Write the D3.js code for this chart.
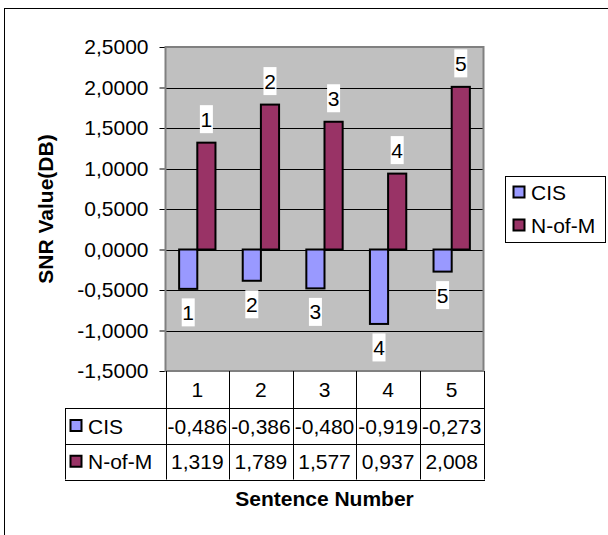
<!DOCTYPE html>
<html>
<head>
<meta charset="utf-8">
<script src="https://cdn.jsdelivr.net/npm/d3@7/dist/d3.min.js"></script>
<style>
  html, body { margin: 0; padding: 0; background: #fff; }
  svg { display: block; }
  text { font-family: "Liberation Sans", Arial, sans-serif; fill: #000; }
</style>
</head>
<body>
<svg id="chart" width="608" height="535"></svg>
<script>
// ---- data ----
const categories = ["1", "2", "3", "4", "5"];
const seriesNames = ["CIS", "N-of-M"];
const cisValues = [-0.486, -0.386, -0.480, -0.919, -0.273];
const nofmValues = [1.319, 1.789, 1.577, 0.937, 2.008];
const yTickValues = [-1.5, -1.0, -0.5, 0.0, 0.5, 1.0, 1.5, 2.0, 2.5];
const seriesColors = ["#9999FF", "#993366"];

const locale = d3.formatLocale({decimal: ",", thousands: ".", grouping: [3], currency: ["", ""], minus: "-"});
const fmtTick = locale.format(".4f");
const fmtVal = locale.format(".3f");

const svg = d3.select("#chart");
const FS = 21;

// outer frame
svg.append("rect").attr("x", 4.5).attr("y", 8.5).attr("width", 620).attr("height", 560)
  .attr("fill", "#fff").attr("stroke", "#000").attr("stroke-width", 1);

const plot = {left: 165.5, right: 483.5, top: 47, bottom: 371};

const y = d3.scaleLinear().domain([-1.5, 2.5]).range([plot.bottom, plot.top]);
const x0 = d3.scaleBand().domain(categories).range([plot.left, plot.right]).paddingInner(0).paddingOuter(0);
const x1 = d3.scaleBand().domain(seriesNames).range([0, x0.bandwidth()]).paddingInner(0).paddingOuter(0.75);

// plot background
svg.append("rect").attr("x", plot.left).attr("y", plot.top)
  .attr("width", plot.right - plot.left).attr("height", plot.bottom - plot.top)
  .attr("fill", "#C0C0C0");

// gridlines
svg.append("g").selectAll("line").data(yTickValues.filter(v => v > -1.5 && v < 2.5)).join("line")
  .attr("x1", plot.left).attr("x2", plot.right)
  .attr("y1", d => Math.round(y(d)) + 0.5).attr("y2", d => Math.round(y(d)) + 0.5)
  .attr("stroke", "#000").attr("stroke-width", 1);

// y axis
const yAxis = d3.axisLeft(y).tickValues(yTickValues).tickFormat(fmtTick).tickSizeInner(6).tickSizeOuter(0).tickPadding(11);
const gy = svg.append("g").attr("transform", `translate(${plot.left},0)`).call(yAxis);
gy.select(".domain").remove();
gy.selectAll(".tick line").attr("stroke", "#000");
gy.selectAll(".tick text").style("font-size", FS + "px").style("font-family", '"Liberation Sans", Arial, sans-serif').attr("fill", "#000");

// bars
const rows = categories.map((c, i) => ({cat: c, vals: [cisValues[i], nofmValues[i]]}));
const groups = svg.append("g").selectAll("g").data(rows).join("g")
  .attr("transform", d => `translate(${x0(d.cat)},0)`);
groups.selectAll("rect").data(d => d.vals.map((v, j) => ({name: seriesNames[j], v, j}))).join("rect")
  .attr("x", d => x1(d.name))
  .attr("width", x1.bandwidth())
  .attr("y", d => Math.min(y(d.v), y(0)))
  .attr("height", d => Math.abs(y(d.v) - y(0)))
  .attr("fill", d => seriesColors[d.j])
  .attr("stroke", "#000").attr("stroke-width", 2);

// data labels (category name)
const labG = groups.selectAll("g.lab").data(d => d.vals.map((v, j) => ({name: seriesNames[j], v, j, cat: d.cat}))).join("g")
  .attr("class", "lab")
  .attr("transform", d => `translate(${x1(d.name) + x1.bandwidth() / 2},${y(d.v) + (d.v < 0 ? 23.5 : -23.5)})`);
labG.append("rect").attr("x", -6.5).attr("y", -14).attr("width", 13).attr("height", 28).attr("fill", "#fff");
labG.append("text").attr("text-anchor", "middle").attr("dy", "0.36em").style("font-size", FS + "px").text(d => d.cat);

// plot border
svg.append("rect").attr("x", plot.left).attr("y", plot.top)
  .attr("width", plot.right - plot.left).attr("height", plot.bottom - plot.top)
  .attr("fill", "none").attr("stroke", "#808080").attr("stroke-width", 2);

// data table
const rowY = [plot.bottom, 408, 444, 479.5];
const tableLeft = 65;
const tg = svg.append("g");
const colEdges = categories.map(c => x0(c)).concat([plot.right]);
tg.selectAll("line.v").data(colEdges).join("line").attr("class", "v")
  .attr("x1", d => Math.round(d) + 0.5).attr("x2", d => Math.round(d) + 0.5)
  .attr("y1", rowY[0]).attr("y2", rowY[3]).attr("stroke", "#000").attr("stroke-width", 1);
tg.append("line").attr("x1", tableLeft + 0.5).attr("x2", tableLeft + 0.5).attr("y1", rowY[1]).attr("y2", rowY[3])
  .attr("stroke", "#000");
tg.selectAll("line.h").data(rowY.slice(1)).join("line").attr("class", "h")
  .attr("x1", tableLeft).attr("x2", Math.round(plot.right) + 1)
  .attr("y1", d => Math.round(d) + 0.5).attr("y2", d => Math.round(d) + 0.5)
  .attr("stroke", "#000");
tg.selectAll("text.cat").data(categories).join("text").attr("class", "cat")
  .attr("x", d => x0(d) + x0.bandwidth() / 2).attr("y", (rowY[0] + rowY[1]) / 2)
  .attr("text-anchor", "middle").attr("dy", "0.36em").style("font-size", FS + "px").text(d => d);
const seriesVals = [cisValues, nofmValues];
seriesNames.forEach((name, j) => {
  const cy = (rowY[j + 1] + rowY[j + 2]) / 2;
  tg.append("rect").attr("x", 70.5).attr("y", cy - 6).attr("width", 11).attr("height", 11)
    .attr("fill", seriesColors[j]).attr("stroke", "#000").attr("stroke-width", 2);
  tg.append("text").attr("x", 88).attr("y", cy).attr("dy", "0.36em").style("font-size", FS + "px").text(name);
  tg.selectAll(null).data(seriesVals[j]).join("text")
    .attr("x", (d, i) => x0(categories[i]) + x0.bandwidth() / 2).attr("y", cy)
    .attr("text-anchor", "middle").attr("dy", "0.36em").style("font-size", FS + "px")
    .text(d => fmtVal(d));
});

// axis titles
svg.append("text").attr("transform", `translate(53,${(plot.top + plot.bottom) / 2}) rotate(-90)`)
  .attr("text-anchor", "middle").style("font-size", FS + "px").style("font-weight", "bold").text("SNR Value(DB)");
svg.append("text").attr("x", (plot.left + plot.right) / 2).attr("y", 506)
  .attr("text-anchor", "middle").style("font-size", FS + "px").style("font-weight", "bold").text("Sentence Number");

// legend
const lg = svg.append("g");
lg.append("rect").attr("x", 505.5).attr("y", 176.5).attr("width", 100).attr("height", 66)
  .attr("fill", "#fff").attr("stroke", "#000");
seriesNames.forEach((name, j) => {
  const cy = 192.5 + j * 33;
  lg.append("rect").attr("x", 513.5).attr("y", cy - 6).attr("width", 11).attr("height", 11)
    .attr("fill", seriesColors[j]).attr("stroke", "#000").attr("stroke-width", 2);
  lg.append("text").attr("x", 531).attr("y", cy).attr("dy", "0.36em").style("font-size", FS + "px").text(name);
});
</script>
</body>
</html>
